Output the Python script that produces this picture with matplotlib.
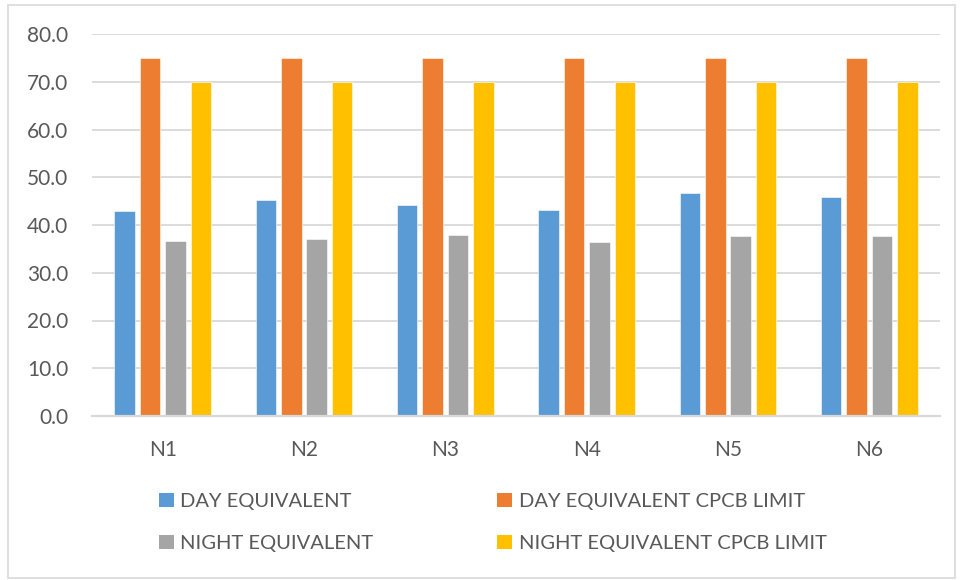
import matplotlib
matplotlib.use("Agg")
import matplotlib.pyplot as plt
import numpy as np
from matplotlib.patches import Rectangle

plt.rcParams['font.family'] = ['Lato', 'DejaVu Sans']

stations = ["N1", "N2", "N3", "N4", "N5", "N6"]
day_equivalent = [42.9, 45.3, 44.2, 43.2, 46.7, 45.9]
day_limit = [75.0, 75.0, 75.0, 75.0, 75.0, 75.0]
night_equivalent = [36.6, 37.0, 38.0, 36.4, 37.6, 37.6]
night_limit = [70.0, 70.0, 70.0, 70.0, 70.0, 70.0]
y_ticks = [0, 10, 20, 30, 40, 50, 60, 70, 80]

series = [
    ("DAY EQUIVALENT", day_equivalent, "#5B9BD5"),
    ("DAY EQUIVALENT CPCB LIMIT", day_limit, "#ED7D31"),
    ("NIGHT EQUIVALENT", night_equivalent, "#A5A5A5"),
    ("NIGHT EQUIVALENT CPCB LIMIT", night_limit, "#FFC000"),
]

fig = plt.figure(figsize=(9.61, 5.80), dpi=100)
ax = fig.add_axes([92 / 961, 1 - 416 / 580, (940 - 92) / 961, (416 - 34) / 580])

x = np.arange(len(stations))
pitch = 0.18
width = 0.145
handles = {}
for i, (label, vals, color) in enumerate(series):
    bars = ax.bar(x + (i - 1.5) * pitch, vals, width=width, color=color,
                  edgecolor="white", linewidth=0.4, label=label, zorder=3)
    handles[label] = bars

ax.set_xlim(-0.5, len(stations) - 0.5)
ax.set_ylim(0, 80)
ax.set_yticks(y_ticks)
ax.set_yticklabels([f"{v:.1f}" for v in y_ticks])
ax.set_xticks(x)
ax.set_xticklabels(stations)
ax.yaxis.grid(True, color="#D9D9D9", linewidth=1.3, zorder=0)
ax.set_axisbelow(True)
for side in ("top", "right", "left"):
    ax.spines[side].set_visible(False)
ax.spines["bottom"].set_color("#D9D9D9")
ax.spines["bottom"].set_linewidth(1.6)
ax.spines["bottom"].set_zorder(4)
ax.tick_params(axis="both", length=0, labelsize=15, colors="#595959")
ax.tick_params(axis="y", pad=17)
ax.tick_params(axis="x", pad=17)

order = ["DAY EQUIVALENT", "NIGHT EQUIVALENT",
         "DAY EQUIVALENT CPCB LIMIT", "NIGHT EQUIVALENT CPCB LIMIT"]
leg = fig.legend([handles[k] for k in order], order, ncol=2,
                 loc="upper left", bbox_to_anchor=(159 / 961, 1 - 493 / 580),
                 frameon=False, fontsize=14.5, handlelength=0.72,
                 handleheight=0.72, handletextpad=0.34, columnspacing=6.15,
                 labelspacing=1.23, borderaxespad=0, borderpad=0)
for t in leg.get_texts():
    t.set_color("#595959")
for h in leg.legend_handles:
    h.set_edgecolor("none")

fig.patches.append(Rectangle((8 / 961, 2 / 580), 947 / 961, 573 / 580,
                             transform=fig.transFigure, fill=False,
                             edgecolor="#D9D9D9", linewidth=1.2))

fig.savefig("out.png", dpi=100)
